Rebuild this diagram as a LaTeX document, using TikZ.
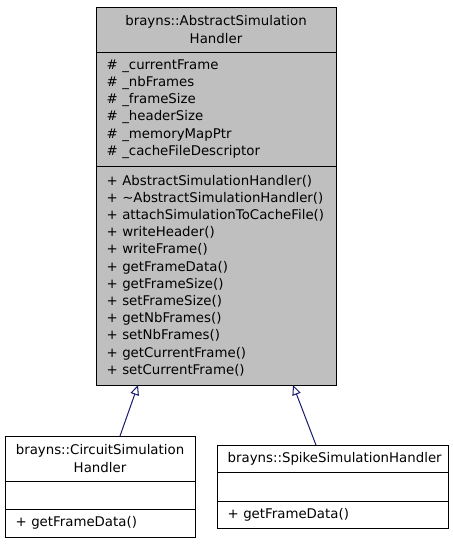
\documentclass[tikz,border=0pt]{standalone}
\usepackage{fontspec}
\setmainfont{DejaVu Sans}
\usetikzlibrary{arrows.meta, positioning}
\definecolor{classgray}{HTML}{BFBFBF}
\definecolor{edgeblue}{HTML}{191970}

\begin{document}
\begin{tikzpicture}[x=0.75pt, y=-0.75pt, node distance=0pt,
    every node/.style={rectangle, draw, line width=0.75pt, outer sep=0pt, inner ysep=0pt, inner xsep=8pt, font=\fontsize{10}{12.9}\selectfont},
    basepart/.style={fill=classgray, text width=164pt},
    leftpart/.style={text width=126.5pt},
    rightpart/.style={text width=157.25pt, inner xsep=8pt},
    inherit/.style={edgeblue, line width=0.75pt, -{Triangle[open, length=7.5pt, width=6.5pt]}}]
    \useasboundingbox (0,0) rectangle (453,544);
    % base class
    \node (basehead) [basepart, align=center, minimum height=33.75pt, anchor=north west] at (96,7) {brayns::AbstractSimulation\\Handler};
    \node (baseattr) [basepart, align=left, minimum height=85.5pt, below=of basehead] {\# \_currentFrame\\\# \_nbFrames\\\# \_frameSize\\\# \_headerSize\\\# \_memoryMapPtr\\\# \_cacheFileDescriptor};
    \node (basemeth) [basepart, align=left, minimum height=164.25pt, below=of baseattr] {+ AbstractSimulationHandler()\\+ \textasciitilde AbstractSimulationHandler()\\+ attachSimulationToCacheFile()\\+ writeHeader()\\+ writeFrame()\\+ getFrameData()\\+ getFrameSize()\\+ setFrameSize()\\+ getNbFrames()\\+ setNbFrames()\\+ getCurrentFrame()\\+ setCurrentFrame()};
    % derived classes
    \node (circhead) [leftpart, align=center, minimum height=33.75pt, anchor=north west] at (5,436) {brayns::CircuitSimulation\\Handler};
    \node (circattr) [leftpart, minimum height=21pt, below=of circhead] {};
    \node (circmeth) [leftpart, align=left, minimum height=21pt, below=of circattr] {+ getFrameData()};
    \node (spikehead) [rightpart, align=center, minimum height=20.25pt, anchor=north west] at (217,445) {brayns::SpikeSimulationHandler};
    \node (spikeattr) [rightpart, minimum height=21.75pt, below=of spikehead] {};
    \node (spikemeth) [rightpart, align=left, minimum height=20.25pt, below=of spikeattr] {+ getFrameData()};
    \draw[inherit] ([xshift=15pt]circhead.north) -- ([xshift=-58.5pt]basemeth.south);
    \draw[inherit] ([xshift=-12.4pt]spikehead.north) -- ([xshift=57.75pt]basemeth.south);
\end{tikzpicture}
\end{document}
